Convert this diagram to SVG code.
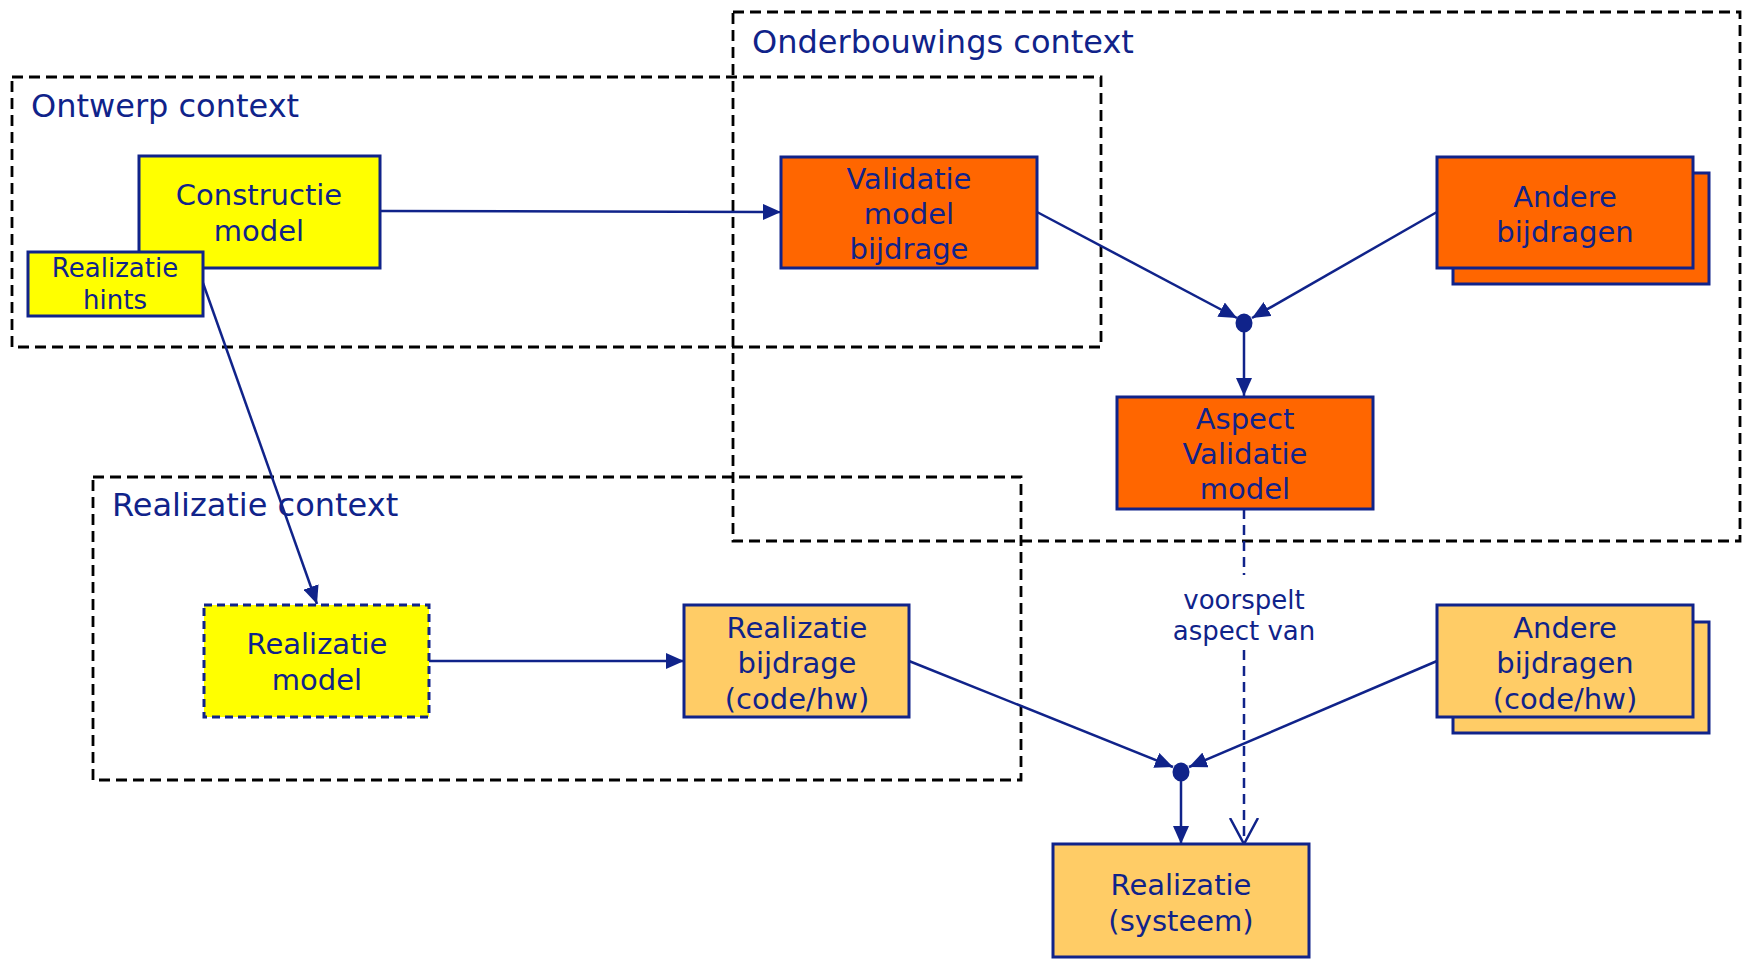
<svg xmlns="http://www.w3.org/2000/svg" width="1742" height="962" viewBox="0 0 1742 962">
<style>
.ctx{fill:none;stroke:#000;stroke-width:2.8;stroke-dasharray:11 6}
.ctxl{font-family:"DejaVu Sans",Verdana,sans-serif;font-size:32px;fill:#10238a}
.n{stroke:#10238a;stroke-width:3}
.y{fill:#ffff00}
.o{fill:#ff6600}
.lo{fill:#ffcc66}
.t{font-family:"DejaVu Sans",Verdana,sans-serif;font-size:29px;fill:#10238a;text-anchor:middle}
.ts{font-family:"DejaVu Sans",Verdana,sans-serif;font-size:26px;fill:#10238a;text-anchor:middle}
.c{fill:none;stroke:#10238a;stroke-width:2.5}
.dash{stroke-dasharray:10 6}
</style>
<defs>
<marker id="ah" markerUnits="userSpaceOnUse" markerWidth="18" markerHeight="16" refX="18" refY="8" orient="auto">
<path d="M0,0 L18,8 L0,16 Z" fill="#10238a"/>
</marker>
<marker id="open" markerUnits="userSpaceOnUse" markerWidth="28" markerHeight="32" refX="26" refY="16" orient="auto">
<path d="M0,2 L26,16 L0,30" fill="none" stroke="#10238a" stroke-width="2.5"/>
</marker>
</defs>

<g id="ctx-onderbouwing">
<rect class="ctx" x="733" y="12" width="1007" height="529"/>
<text class="ctxl" x="752" y="53">Onderbouwings context</text>
</g>
<g id="ctx-ontwerp">
<rect class="ctx" x="12" y="77" width="1089" height="270"/>
<text class="ctxl" x="31" y="117">Ontwerp context</text>
</g>
<g id="ctx-realizatie">
<rect class="ctx" x="93" y="477" width="928" height="303"/>
<text class="ctxl" x="112" y="516">Realizatie context</text>
</g>

<g id="connectors">
<line class="c" x1="380" y1="211" x2="781" y2="212" marker-end="url(#ah)"/>
<line class="c" x1="203" y1="283" x2="317" y2="604" marker-end="url(#ah)"/>
<line class="c" x1="1037" y1="212" x2="1237" y2="318" marker-end="url(#ah)"/>
<line class="c" x1="1437" y1="212" x2="1252" y2="318" marker-end="url(#ah)"/>
<ellipse cx="1244" cy="323" rx="8.5" ry="9.5" fill="#10238a"/>
<line class="c" x1="1244" y1="330" x2="1244" y2="396" marker-end="url(#ah)"/>
<line class="c" x1="429" y1="661" x2="684" y2="661" marker-end="url(#ah)"/>
<line class="c" x1="909" y1="661" x2="1173" y2="767" marker-end="url(#ah)"/>
<line class="c" x1="1437" y1="661" x2="1189" y2="767" marker-end="url(#ah)"/>
<ellipse cx="1181" cy="772" rx="8.5" ry="9.5" fill="#10238a"/>
<line class="c" x1="1181" y1="779" x2="1181" y2="844" marker-end="url(#ah)"/>
<line class="c dash" x1="1244" y1="509" x2="1244" y2="575"/>
<line class="c dash" x1="1244" y1="650" x2="1244" y2="844" marker-end="url(#open)"/>
<text class="ts" x="1244" y="609">voorspelt</text>
<text class="ts" x="1244" y="640">aspect van</text>
</g>

<g id="constructie-model">
<rect class="n y" x="139" y="156" width="241" height="112"/>
<text class="t" x="259" y="205">Constructie</text>
<text class="t" x="259" y="241">model</text>
</g>
<g id="realizatie-hints">
<rect class="n y" x="28" y="252" width="175" height="64"/>
<text class="ts" x="115" y="277">Realizatie</text>
<text class="ts" x="115" y="309">hints</text>
</g>
<g id="validatie-model-bijdrage">
<rect class="n o" x="781" y="157" width="256" height="111"/>
<text class="t" x="909" y="189">Validatie</text>
<text class="t" x="909" y="224">model</text>
<text class="t" x="909" y="259">bijdrage</text>
</g>
<g id="andere-bijdragen">
<rect class="n o" x="1453" y="173" width="256" height="111"/>
<rect class="n o" x="1437" y="157" width="256" height="111"/>
<text class="t" x="1565" y="207">Andere</text>
<text class="t" x="1565" y="242">bijdragen</text>
</g>
<g id="aspect-validatie-model">
<rect class="n o" x="1117" y="397" width="256" height="112"/>
<text class="t" x="1245" y="429">Aspect</text>
<text class="t" x="1245" y="464">Validatie</text>
<text class="t" x="1245" y="499">model</text>
</g>
<g id="realizatie-model">
<rect class="n y" x="204" y="605" width="225" height="112" stroke-dasharray="8 5"/>
<text class="t" x="317" y="654">Realizatie</text>
<text class="t" x="317" y="690">model</text>
</g>
<g id="realizatie-bijdrage">
<rect class="n lo" x="684" y="605" width="225" height="112"/>
<text class="t" x="797" y="638">Realizatie</text>
<text class="t" x="797" y="673">bijdrage</text>
<text class="t" x="797" y="709">(code/hw)</text>
</g>
<g id="andere-bijdragen-code">
<rect class="n lo" x="1453" y="622" width="256" height="111"/>
<rect class="n lo" x="1437" y="605" width="256" height="112"/>
<text class="t" x="1565" y="638">Andere</text>
<text class="t" x="1565" y="673">bijdragen</text>
<text class="t" x="1565" y="709">(code/hw)</text>
</g>
<g id="realizatie-systeem">
<rect class="n lo" x="1053" y="844" width="256" height="113"/>
<text class="t" x="1181" y="895">Realizatie</text>
<text class="t" x="1181" y="931">(systeem)</text>
</g>
</svg>
